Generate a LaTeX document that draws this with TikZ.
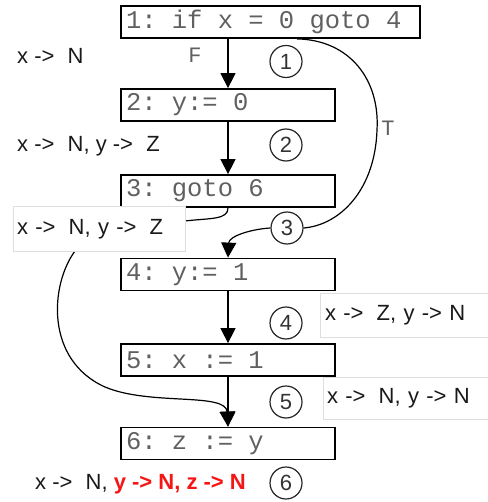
\documentclass[tikz,border=0pt]{standalone}
\usepackage{fontspec}
\setmainfont{Liberation Sans}
\newfontfamily\codefont{Liberation Mono}
\usetikzlibrary{arrows.meta}
\pgfdeclarelayer{bg}
\pgfsetlayers{bg,main}
\ExplSyntaxOn
\NewDocumentCommand\monostr{m}{\str_map_inline:nn {#1} {\makebox[0.6em][c]{##1}}}
\ExplSyntaxOff
\newcommand\pto{-{>}\hspace{0.6em}}
\definecolor{codegray}{HTML}{606060}
\definecolor{redlab}{HTML}{F51515}
\begin{document}
\begin{tikzpicture}[x=1pt,y=-1pt,
  stmt/.style={draw, line width=1.8pt, minimum height=32pt, inner xsep=5pt, inner ysep=0pt,
    align=left, font=\fontsize{25.5}{25.5}\codefont, text=codegray},
  smallbox/.style={stmt, minimum width=214pt, text width=204pt},
  lab/.style={inner sep=0pt, anchor=west, font=\fontsize{22}{22}\selectfont, text=black!90},
  lblbox/.style={draw=black!13, fill=white, line width=1pt, inner xsep=4pt, inner ysep=0pt,
    align=left, font=\fontsize{22}{22}\selectfont, text=black!90},
  circ/.style={circle, draw=black!85, line width=1.2pt, minimum size=32pt, inner sep=0pt,
    font=\fontsize{22}{22}\selectfont, text=black!80},
  edgelab/.style={inner sep=0pt, font=\fontsize{22}{22}\codefont, text=codegray},
  arr/.style={line width=1.5pt, -{Triangle[width=15pt,length=15pt]}},
  curve/.style={line width=1.2pt}]
\useasboundingbox (0,0) rectangle (487,502);

% statement boxes
\node[stmt, minimum width=299pt, text width=289pt] (b1) at (270.5,22) {\monostr{1: if x = 0 goto 4}};
\node[smallbox] (b2) at (228,105) {\monostr{2: y:= 0}};
\node[smallbox] (b3) at (228,191) {\monostr{3: goto 6}};
\node[smallbox] (b4) at (228,274.5) {\monostr{4: y:= 1}};
\node[smallbox] (b5) at (228,360) {\monostr{5: x := 1}};
\node[smallbox] (b6) at (228,443.5) {\monostr{6: z := y}};

% circled program points
\node[circ] (c1) at (286,61.5) {1};
\node[circ] (c2) at (286,145) {2};
\node[circ] (c3) at (287,228) {3};
\node[circ] (c4) at (286,323) {4};
\node[circ] (c5) at (286,402) {5};
\node[circ] (c6) at (286,483) {6};

% straight edges
\draw[arr] (b1.south -| b2.north) -- (b2.north);
\draw[arr] (b2.south) -- (b3.north);
\draw[arr] (b4.south) -- (b5.north);
\draw[arr] (b5.south) -- (b6.north);

% edge labels
\node[edgelab] (lf) at (195,55) {F};
\node[edgelab] (lt) at (388,128) {T};

% true branch 1 -> 4 through point 3
\coordinate (t0) at ([xshift=26.5pt]b1.south);
\draw[curve] (t0) .. controls (350,40) and (380,80) .. (377,130)
  .. controls (375,190) and (340,225) .. (c3.east);
\draw[curve, arr, line width=1.2pt] (c3.west) .. controls (252,229) and (229,236) .. (b4.north);

% goto 6 edge (behind the label box)
\begin{pgfonlayer}{bg}
\draw[curve, arr, line width=1.2pt] (b3.south) .. controls (228,220) and (210,218) .. (185,221)
  .. controls (130,228) and (85,235) .. (75,251)
  .. controls (50,285) and (45,360) .. (105,387)
  .. controls (150,406) and (226,392) .. (b6.north);
\end{pgfonlayer}

% abstract states
\node[lab] (s1) at (17,56) {x \pto N};
\node[lab] (s2) at (17,146) {x \pto N, y \pto Z};
\node[lblbox, minimum width=172pt, minimum height=44pt, text width=164pt] (s3) at (99,229) {x \pto N, y \pto Z};
\node[lblbox, minimum width=180pt, minimum height=44pt, text width=170pt] (s4) at (410,315) {x \pto Z, y -> N};
\node[lblbox, minimum width=177pt, minimum height=42pt, text width=169pt] (s5) at (411.5,398) {x \pto N, y -> N};
\node[lab] (s6) at (35,484) {x \pto N, \textcolor{redlab}{\bfseries y -> N, z -> N}};
\end{tikzpicture}
\end{document}
